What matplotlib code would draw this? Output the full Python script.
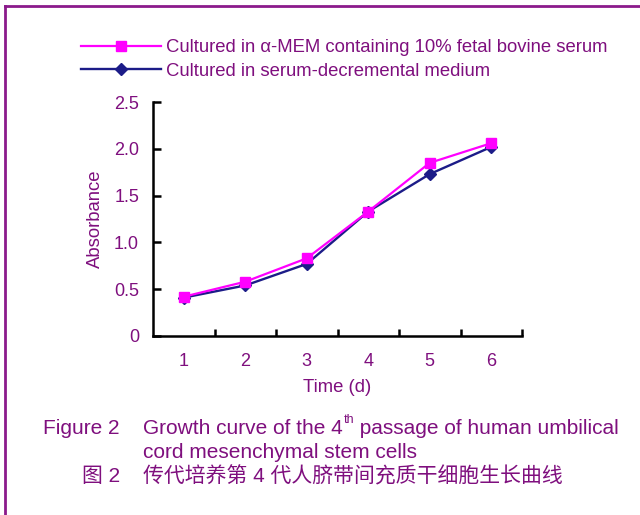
import matplotlib.pyplot as plt
from matplotlib.lines import Line2D
from matplotlib.transforms import offset_copy

plt.rcParams['font.family'] = ['Liberation Sans', 'Noto Sans CJK SC', 'DejaVu Sans']

PURPLE = "#7f0f7e"
PINK = "#ff00ff"
NAVY = "#1c1c88"

# data
days = [1, 2, 3, 4, 5, 6]
fbs_serum = [0.42, 0.58, 0.83, 1.33, 1.85, 2.06]
decremental = [0.41, 0.54, 0.77, 1.33, 1.73, 2.02]
yticks = [0, 0.5, 1.0, 1.5, 2.0, 2.5]
ytick_labels = ["0", "0.5", "1.0", "1.5", "2.0", "2.5"]

fig = plt.figure(figsize=(6.4, 5.15), dpi=100)
ax = fig.add_axes([153 / 640, 1 - 336 / 515, 369 / 640, 234 / 515])

ax.plot(days, decremental, color=NAVY, lw=1.7, marker="D", ms=6,
        mfc=NAVY, mec=NAVY, label="Cultured in serum-decremental medium", zorder=2)
ax.plot(days, fbs_serum, color=PINK, lw=1.6, marker="s", ms=7,
        mfc=PINK, mec=PINK, label="Cultured in \u03b1-MEM containing 10% fetal bovine serum", zorder=3)

ax.set_xlim(0.5, 6.5)
ax.set_ylim(0, 2.5)
ax.set_xticks(days)
ax.set_xticks([1.5, 2.5, 3.5, 4.5, 5.5, 6.5], minor=True)
ax.set_yticks(yticks)
ax.set_yticklabels(ytick_labels)
ax.tick_params(axis="x", which="major", length=0, pad=12, labelsize=13, labelcolor=PURPLE)
ax.tick_params(axis="x", which="minor", direction="in", length=5, width=1.8, color="black")
ax.tick_params(axis="y", direction="in", length=6, width=1.8, pad=10, labelsize=13, labelcolor=PURPLE)
for s in ["top", "right"]:
    ax.spines[s].set_visible(False)
for s in ["left", "bottom"]:
    ax.spines[s].set_linewidth(1.8)

ax.set_ylabel("Absorbance", color=PURPLE, fontsize=13.3, labelpad=7)
ax.set_xlabel("Time (d)", color=PURPLE, fontsize=13.3, labelpad=7)

handles, labels = ax.get_legend_handles_labels()
leg = fig.legend(handles[::-1], labels[::-1], loc="upper left",
                 bbox_to_anchor=(72 / 640, 1 - 30 / 515), frameon=False,
                 fontsize=13.3, handlelength=4.3, handletextpad=0.27,
                 labelspacing=0.35, borderpad=0)
for t in leg.get_texts():
    t.set_color(PURPLE)

# caption (superscript "th" placed as its own small text)
renderer = fig.canvas.get_renderer()
cap_x, cap_y = 143 / 640, 1 - 428 / 515
fig.text(43 / 640, cap_y, "Figure 2", color=PURPLE, fontsize=15, va="center")
part1 = fig.text(cap_x, cap_y, "Growth curve of the 4", color=PURPLE, fontsize=15, va="center")
w1 = part1.get_window_extent(renderer).width * 72 / fig.dpi
sup = fig.text(cap_x, cap_y, "th", color=PURPLE, fontsize=9, va="center",
               transform=offset_copy(fig.transFigure, fig=fig, x=w1 + 0.5, y=6, units="points"))
w2 = sup.get_window_extent(renderer).width * 72 / fig.dpi
fig.text(cap_x, cap_y, " passage of human umbilical", color=PURPLE, fontsize=15, va="center",
         transform=offset_copy(fig.transFigure, fig=fig, x=w1 + w2 + 0.5, y=0, units="points"))
fig.text(cap_x, 1 - 452 / 515, "cord mesenchymal stem cells", color=PURPLE, fontsize=15, va="center")
fig.text(82 / 640, 1 - 476 / 515, "图 2", color=PURPLE, fontsize=15, va="center")
fig.text(cap_x, 1 - 476 / 515, "传代培养第 4 代人脐带间充质干细胞生长曲线",
         color=PURPLE, fontsize=15, va="center")

# frame lines at top and left edges
fig.add_artist(Line2D([5 / 640, 1], [1 - 6 / 515, 1 - 6 / 515], color="#8b1a8b", lw=2))
fig.add_artist(Line2D([5 / 640, 5 / 640], [0, 1 - 6 / 515], color="#8b1a8b", lw=2))

fig.savefig("out.png", dpi=100)
